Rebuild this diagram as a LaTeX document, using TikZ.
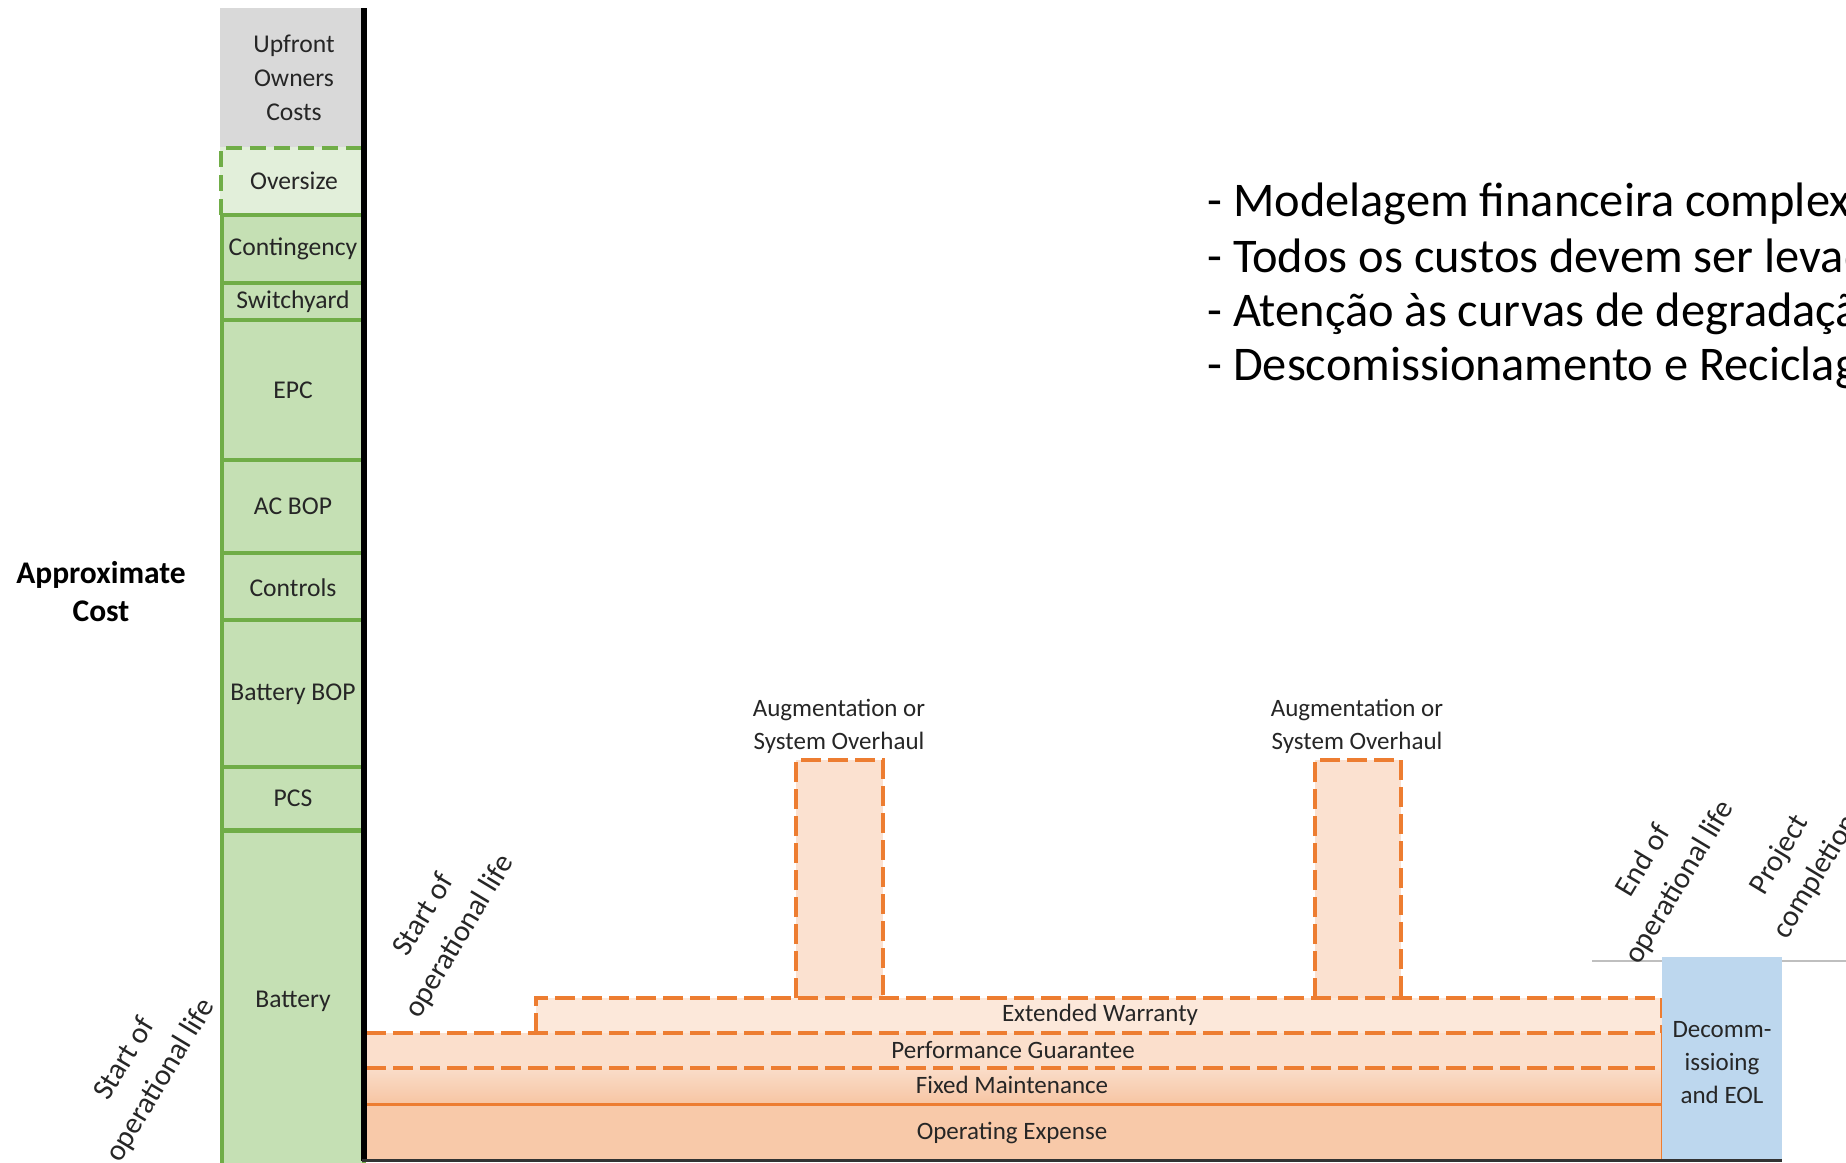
\documentclass[tikz,border=0pt]{standalone}
\usepackage{fontspec}
\setmainfont{Carlito}
\definecolor{cgray}{HTML}{D9D9D9}
\definecolor{clight}{HTML}{E2EFDA}
\definecolor{cgreen}{HTML}{C5E0B4}
\definecolor{cline}{HTML}{70AD47}
\definecolor{corange}{HTML}{ED7D31}
\definecolor{cext}{HTML}{FCE8DA}
\definecolor{cperf}{HTML}{FBDFCC}
\definecolor{cfixA}{HTML}{FADDC9}
\definecolor{cfixB}{HTML}{F7C5A3}
\definecolor{copex}{HTML}{F8C9A9}
\definecolor{caug}{HTML}{FBE1D0}
\definecolor{cblue}{HTML}{BDD7EE}
\begin{document}
\begin{tikzpicture}[x=0.5pt,y=-0.5pt,
  lbl/.style={font=\fontsize{12.5}{17}\selectfont, align=center, inner sep=0pt, text=black!85},
  gbox/.style={fill=cgreen, draw=cline, line width=2pt, minimum width=71pt, inner sep=0pt,
     font=\fontsize{12.8}{17}\selectfont, text=black!85},
  odash/.style={draw=corange, line width=2pt, dash pattern=on 10pt off 3.5pt},
  rot/.style={font=\fontsize{15}{21}\selectfont, align=center, rotate=59, inner sep=0pt, text=black!85},
  bul/.style={font=\fontsize{24.2}{28}\selectfont, inner sep=0pt, anchor=base west},
]
\useasboundingbox (0,0) rectangle (1846,1162);
\clip (0,0) rectangle (1846,1162);
\fill[white] (0,0) rectangle (1846,1162);

% upfront column
\fill[cgray] (220,8) rectangle (362,147);
\node[lbl, font=\fontsize{12.8}{17}\selectfont] (upfront) at (294,78) {Upfront\\Owners\\Costs};
\fill[clight] (220,147) rectangle (362,215);
\draw[cline, line width=2pt, dash pattern=on 8pt off 4pt] (221,215) -- (221,148) -- (362,148);
\node[lbl, font=\fontsize{12.8}{17}\selectfont] (oversize) at (294,181) {Oversize};

\node[gbox, minimum height=34pt] (contingency) at (293,249) {Contingency};
\node[gbox, minimum height=18.5pt] (switchyard) at (293,301.5) {Switchyard};
\node[gbox, minimum height=70pt] (epc) at (293,390) {EPC};
\node[gbox, minimum height=46.5pt] (acbop) at (293,506.5) {AC BOP};
\node[gbox, minimum height=34.5pt] (controls) at (293,587.5) {Controls};
\node[gbox, minimum height=74pt] (batbop) at (293,694) {Battery BOP};
\node[gbox, minimum height=31.5pt] (pcs) at (293,798) {PCS};
\node[gbox, minimum height=168pt, text depth=0pt] (battery) at (293,999) {Battery};

\node[font=\bfseries\fontsize{15.75}{19}\selectfont, align=center, inner sep=0pt] (approx) at (101,592) {Approximate\\Cost};

% orange layers
\fill[cext] (536,998) rectangle (1662,1033);
\fill[cperf] (366,1033) rectangle (1662,1068);
\shade[top color=cfixA, bottom color=cfixB] (366,1068) rectangle (1662,1104);
\fill[copex] (366,1104) rectangle (1662,1160);
\fill[caug] (796,760) rectangle (883,998);
\fill[caug] (1315,760) rectangle (1401,998);

\draw[odash] (796,998) -- (796,760) -- (883,760) -- (883,998);
\draw[odash] (1315,998) -- (1315,760) -- (1401,760) -- (1401,998);
\draw[odash] (536,1033) -- (536,998) -- (1662,998) -- (1662,1033);
\draw[odash] (366,1033) -- (1662,1033);
\draw[odash] (366,1068) -- (1662,1068);
\draw[corange, line width=1.5pt] (366,1104) -- (1662,1104);
\draw[corange, line width=1.5pt] (1662,1033) -- (1662,1160);

\node[lbl] (ew) at (1100,1015) {Extended Warranty};
\node[lbl] (pg) at (1013,1050) {Performance Guarantee};
\node[lbl] (fm) at (1012,1085) {Fixed Maintenance};
\node[lbl] (oe) at (1012,1133) {Operating Expense};
\node[lbl, font=\fontsize{12.5}{16.5}\selectfont] (aug1) at (839,726) {Augmentation or\\System Overhaul};
\node[lbl, font=\fontsize{12.5}{16.5}\selectfont] (aug2) at (1357,726) {Augmentation or\\System Overhaul};

% decommissioning
\draw[black!25, line width=0.6pt] (1592,961) -- (1846,961);
\fill[cblue] (1662,957) rectangle (1782,1160);
\node[lbl, font=\fontsize{12.5}{16.5}\selectfont] (decomm) at (1722,1063) {Decomm-\\issioing\\and EOL};

% axes
\draw[line width=3pt] (364,8) -- (364,1161);
\draw[line width=1.5pt, black!80] (362,1160) -- (1782,1160);

% rotated labels
\node[rot] (sol1) at (143,1070) {Start of\\operational life};
\node[rot] (sol2) at (442,926) {Start of\\operational life};
\node[rot] (eol) at (1662,872) {End of\\operational life};
\node[rot] (proj) at (1798,866) {Project\\completion};

% bullets
\node[bul] (b1) at (1207,216) {- Modelagem financeira complexa};
\node[bul] (b2) at (1207,272) {- Todos os custos devem ser levados};
\node[bul] (b3) at (1207,326) {- Atenção às curvas de degradação};
\node[bul] (b4) at (1207,380) {- Descomissionamento e Reciclagem};
\end{tikzpicture}
\end{document}
